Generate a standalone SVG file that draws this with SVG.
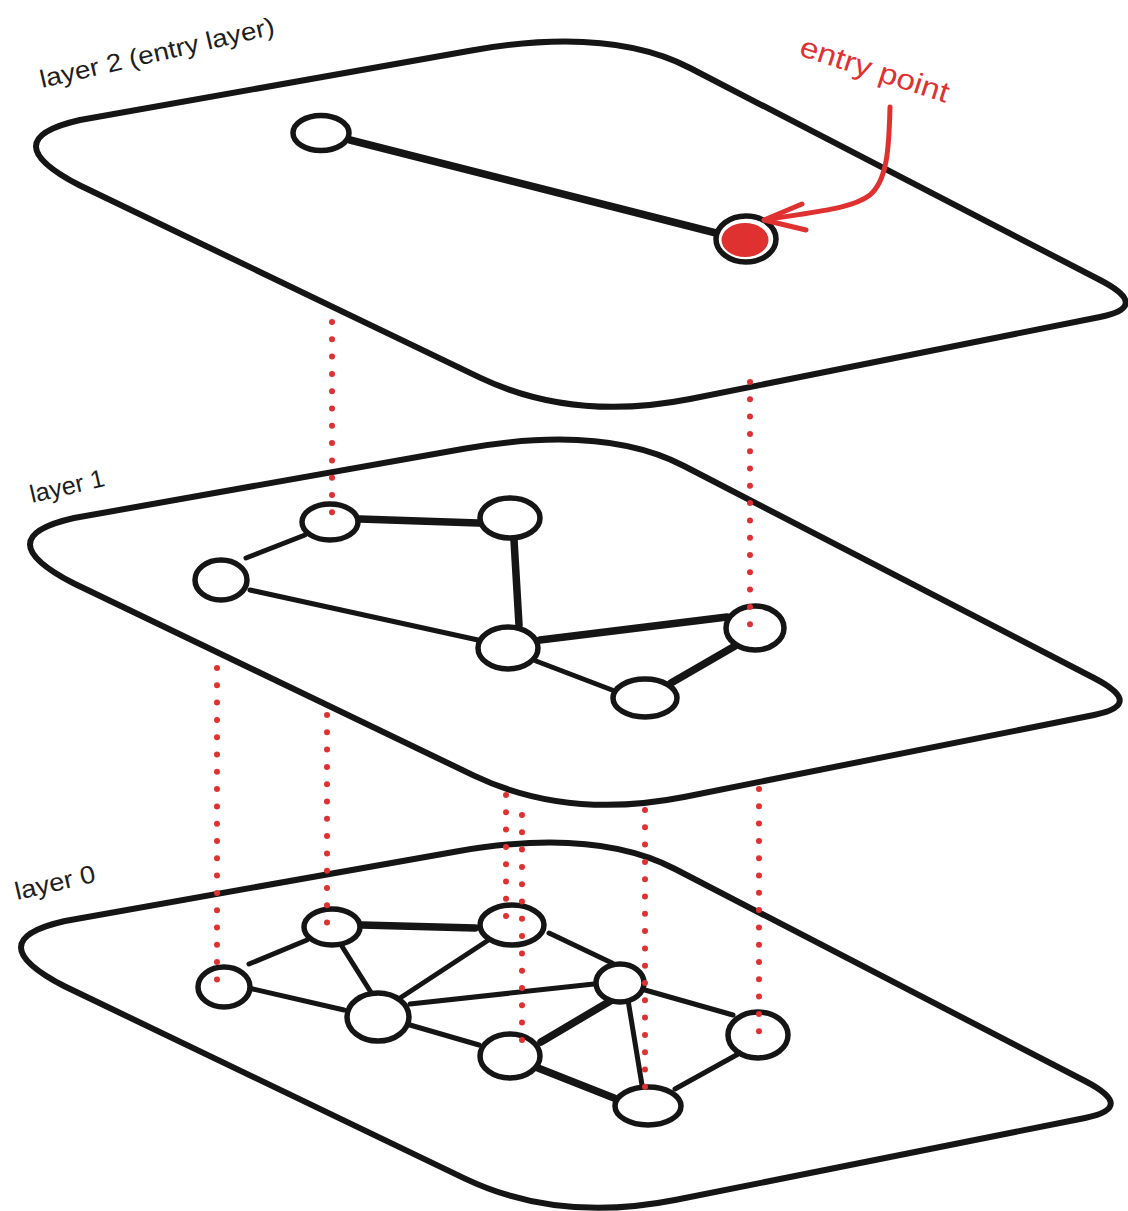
<svg xmlns="http://www.w3.org/2000/svg" xmlns:xlink="http://www.w3.org/1999/xlink" width="1128" height="1211" viewBox="0 0 1128 1211">
  <style>
    .plane { fill: none; stroke: #151515; stroke-width: 6; stroke-linejoin: round; }
    .node { fill: #ffffff; stroke: #151515; stroke-width: 5.5; }
    .edge { fill: none; stroke: #151515; stroke-width: 5; stroke-linecap: round; }
    .thick { stroke-width: 7.5; }
    .link { fill: none; stroke: #e03131; stroke-width: 6; stroke-linecap: round; stroke-dasharray: 0 17.3; }
    .label { font-family: "Liberation Sans", "DejaVu Sans", sans-serif; font-size: 25px; fill: #1e1e1e; }
    .red-label { font-family: "Liberation Sans", "DejaVu Sans", sans-serif; font-size: 29px; fill: #e03131; }
    .pointer { fill: none; stroke: #e03131; stroke-width: 5; stroke-linecap: round; stroke-linejoin: round; }
  </style>
  <defs>
    <!-- one skewed rounded plane, reused for every layer -->
    <path id="plane-shape" d="M 80,120 L 470,50.7 Q 609,26 690,68 L 1100,280 Q 1151.5,306.7 1100,317 L 690,399 Q 573,422 480,377.6 L 80,185.5 Q -8,140 80,120 Z"/>
  </defs>

  <rect width="1128" height="1211" fill="#ffffff"/>

  <!-- planes -->
  <g id="plane-2"><use xlink:href="#plane-shape" class="plane"/></g>
  <g id="plane-1"><use xlink:href="#plane-shape" class="plane" transform="translate(-6,398)"/></g>
  <g id="plane-0"><use xlink:href="#plane-shape" class="plane" transform="translate(-15,801)"/></g>

  <!-- layer labels -->
  <text class="label" x="42" y="88" transform="rotate(-13 42 88)" textLength="240" lengthAdjust="spacingAndGlyphs">layer 2 (entry layer)</text>
  <text class="label" x="32" y="503" transform="rotate(-13 32 503)" textLength="76" lengthAdjust="spacingAndGlyphs">layer 1</text>
  <text class="label" x="17" y="900" transform="rotate(-13 17 900)" textLength="82" lengthAdjust="spacingAndGlyphs">layer 0</text>

  <!-- connectors -->
  <g id="connectors">
    <!-- layer 2 -->
    <path class="edge thick" d="M 350,140 L 716,233"/>
    <!-- layer 1 -->
    <path class="edge thick" d="M 360,519 L 478,523"/>
    <path class="edge" d="M 305,535 L 246,558"/>
    <path class="edge" d="M 250,590 L 478,640"/>
    <path class="edge thick" d="M 514,540 L 519,625"/>
    <path class="edge thick" d="M 540,640 L 727,617"/>
    <path class="edge" d="M 536,661 L 612,690"/>
    <path class="edge thick" d="M 671,683 L 735,646"/>
    <!-- layer 0 -->
    <path class="edge" d="M 249,964 L 307,940"/>
    <path class="edge thick" d="M 362,925 L 475,928"/>
    <path class="edge" d="M 338,940 L 372,994"/>
    <path class="edge" d="M 253,989 L 344,1010"/>
    <path class="edge" d="M 487,941 L 394,1002"/>
    <path class="edge" d="M 410,1004 L 594,984"/>
    <path class="edge" d="M 549,933 L 612,963"/>
    <path class="edge" d="M 410,1025 L 479,1045"/>
    <path class="edge thick" d="M 541,1042 L 612,1000"/>
    <path class="edge" d="M 628,1000 L 642,1085"/>
    <path class="edge" d="M 645,990 L 733,1015"/>
    <path class="edge thick" d="M 538,1068 L 614,1098"/>
    <path class="edge" d="M 675,1089 L 740,1053"/>
  </g>

  <!-- layer 2 nodes -->
  <g id="l2-a"><ellipse class="node" cx="321" cy="133" rx="28" ry="17.5"/></g>
  <g id="l2-entry">
    <ellipse class="node" cx="746" cy="239" rx="30" ry="23"/>
    <ellipse cx="745" cy="240" rx="23.5" ry="17" fill="#e03131"/>
  </g>

  <!-- layer 1 nodes -->
  <g id="l1-a"><ellipse class="node" cx="330" cy="522" rx="28" ry="18"/></g>
  <g id="l1-b"><ellipse class="node" cx="510" cy="518" rx="30" ry="20"/></g>
  <g id="l1-c"><ellipse class="node" cx="221" cy="580" rx="26" ry="20"/></g>
  <g id="l1-d"><ellipse class="node" cx="508" cy="648" rx="30" ry="21"/></g>
  <g id="l1-e"><ellipse class="node" cx="755" cy="628" rx="29" ry="22"/></g>
  <g id="l1-f"><ellipse class="node" cx="645" cy="698" rx="32" ry="19"/></g>

  <!-- layer 0 nodes -->
  <g id="l0-a"><ellipse class="node" cx="332" cy="927" rx="28" ry="18"/></g>
  <g id="l0-b"><ellipse class="node" cx="512" cy="925" rx="32" ry="20"/></g>
  <g id="l0-c"><ellipse class="node" cx="224" cy="987" rx="26" ry="20"/></g>
  <g id="l0-d"><ellipse class="node" cx="378" cy="1017" rx="31" ry="24"/></g>
  <g id="l0-e"><ellipse class="node" cx="620" cy="983" rx="24" ry="19"/></g>
  <g id="l0-f"><ellipse class="node" cx="510" cy="1056" rx="30" ry="22"/></g>
  <g id="l0-g"><ellipse class="node" cx="758" cy="1035" rx="30" ry="23"/></g>
  <g id="l0-h"><ellipse class="node" cx="648" cy="1106" rx="33" ry="19"/></g>

  <!-- vertical projections between layers -->
  <g id="projections">
    <path class="link" d="M 332,322 V 520"/>
    <path class="link" d="M 750,382 V 628"/>
    <path class="link" d="M 217,668 V 987"/>
    <path class="link" d="M 327,715 V 927"/>
    <path class="link" d="M 506,795 V 917"/>
    <path class="link" d="M 522,815 V 1056"/>
    <path class="link" d="M 645,810 V 1104"/>
    <path class="link" d="M 759,789 V 1033"/>
  </g>

  <!-- entry point callout -->
  <g id="entry-callout">
    <text class="red-label" x="798" y="55" transform="rotate(18 798 55)" textLength="155" lengthAdjust="spacingAndGlyphs">entry point</text>
    <path class="pointer" d="M 890,107 C 889,150 887,180 870,195 C 850,210 810,212 765,220"/>
    <path class="pointer" d="M 802,204 L 764,220 L 806,230"/>
  </g>
</svg>
